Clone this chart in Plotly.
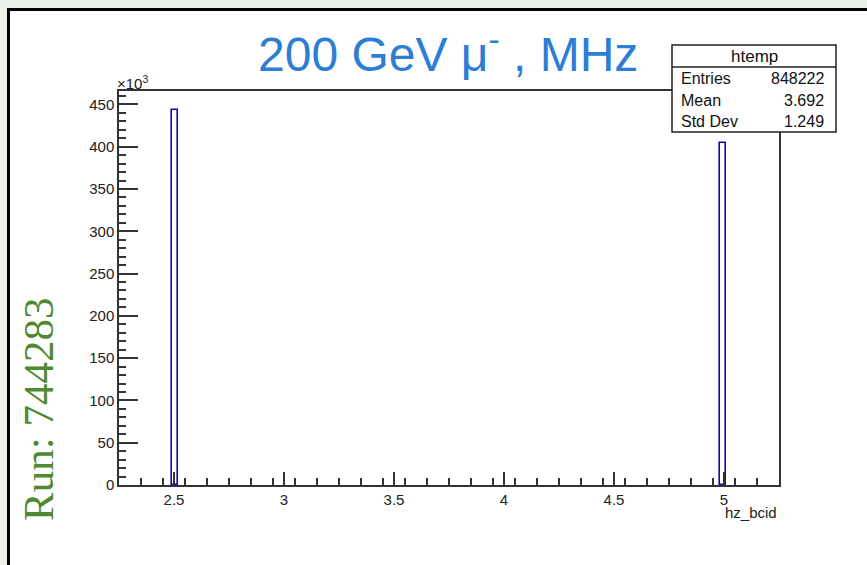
import math
import plotly.graph_objects as go

# Histogram content: hz_bcid values and their entry counts
bcid_values = [2.5, 5.0]
bcid_counts = [443700, 404522]

# Binning of the histogram
x_min, x_max, n_bins = 2.25, 5.25, 100
bin_width = (x_max - x_min) / n_bins

y_tick_vals = [0, 50000, 100000, 150000, 200000, 250000, 300000, 350000, 400000, 450000]
y_tick_text = ["0", "50", "100", "150", "200", "250", "300", "350", "400", "450"]
x_tick_vals = [2.5, 3.0, 3.5, 4.0, 4.5, 5.0]
x_tick_text = ["2.5", "3", "3.5", "4", "4.5", "5"]

# Statistics shown in the stats box
entries = sum(bcid_counts)
mean = sum(v * c for v, c in zip(bcid_values, bcid_counts)) / entries
std = math.sqrt(sum(c * (v - mean) ** 2 for v, c in zip(bcid_values, bcid_counts)) / entries)

bin_lo = [x_min + math.floor((v - x_min) / bin_width) * bin_width for v in bcid_values]
bin_centers = [lo + bin_width / 2 for lo in bin_lo]

W, H = 867, 565
L, R, T, B = 119, 88, 91, 80
PW, PH = W - L - R, H - T - B


def px(x):
    return (x - L) / PW


def py(y):
    return (H - B - y) / PH


AX = "#333333"
LBL = "#222222"
FONT = "Liberation Sans, Arial, Helvetica, sans-serif"

fig = go.Figure()
fig.add_trace(go.Bar(
    x=bin_centers, y=bcid_counts, width=[bin_width] * len(bin_centers),
    marker=dict(color="rgba(0,0,0,0)", line=dict(color="#0a0ab4", width=1.6)),
    hoverinfo="x+y", showlegend=False,
))

shapes = [
    # white canvas with black border
    dict(type="rect", xref="paper", yref="paper", layer="below",
         x0=px(8.5), y0=py(9.5), x1=px(920), y1=py(620),
         fillcolor="white", line=dict(color="black", width=3)),
    # stats box
    dict(type="rect", xref="paper", yref="paper", layer="above",
         x0=px(672), y0=py(45), x1=px(836), y1=py(132),
         fillcolor="white", line=dict(color="#222222", width=1.5)),
    dict(type="line", xref="paper", yref="paper", layer="above",
         x0=px(672), y0=py(67), x1=px(836), y1=py(67),
         line=dict(color="#222222", width=1.5)),
]

ann = []
stat_font = dict(family=FONT, size=16, color="#111111")
ann.append(dict(text="htemp", x=px(754), y=py(56), xref="paper", yref="paper",
                showarrow=False, xanchor="center", yanchor="middle",
                font=dict(family=FONT, size=17, color="#111111")))
rows = [("Entries", f"{entries:d}", 79), ("Mean", f"{mean:.3f}", 100), ("Std Dev", f"{std:.3f}", 121)]
for lab, val, yy in rows:
    ann.append(dict(text=lab, x=px(679), y=py(yy), xref="paper", yref="paper",
                    showarrow=False, xanchor="left", yanchor="middle", font=stat_font))
    ann.append(dict(text=val, x=px(826), y=py(yy), xref="paper", yref="paper",
                    showarrow=False, xanchor="right", yanchor="middle", font=stat_font))

# title
ann.append(dict(text="200 GeV μ<sup>-</sup> , MHz", x=px(448), y=py(51), xref="paper", yref="paper",
                showarrow=False, xanchor="center", yanchor="middle",
                font=dict(family=FONT, size=48, color="#2d7dd4")))
# exponent of y axis
ann.append(dict(text="×10<sup>3</sup>", x=px(115), y=py(82), xref="paper", yref="paper",
                showarrow=False, xanchor="left", yanchor="middle",
                font=dict(family=FONT, size=15, color=LBL)))
# x axis title
ann.append(dict(text="hz_bcid", x=px(779), y=py(512), xref="paper", yref="paper",
                showarrow=False, xanchor="right", yanchor="middle",
                font=dict(family=FONT, size=15, color=LBL)))
# run number
ann.append(dict(text="Run: 744283", x=px(38), y=py(410), xref="paper", yref="paper",
                showarrow=False, xanchor="center", yanchor="middle", textangle=-90,
                font=dict(family="Liberation Serif, Times New Roman, serif", size=43, color="#4f8a30")))

fig.update_layout(
    width=W, height=H,
    margin=dict(l=L, r=R, t=T, b=B, pad=0),
    paper_bgcolor="#ecf2ea", plot_bgcolor="white",
    shapes=shapes, annotations=ann, bargap=0,
    xaxis=dict(range=[x_min, x_max], showgrid=False, zeroline=False,
               showline=True, linecolor=AX, linewidth=1.5, mirror=True,
               ticks="inside", ticklen=13, tickwidth=1.5, tickcolor=AX,
               tickvals=x_tick_vals, ticktext=x_tick_text,
               tickfont=dict(family=FONT, size=15, color=LBL),
               minor=dict(dtick=0.1, tick0=x_min, ticks="inside", ticklen=7,
                          tickwidth=1.5, tickcolor=AX, showgrid=False)),
    yaxis=dict(range=[0, 1.05 * max(bcid_counts)], showgrid=False, zeroline=False,
               showline=True, linecolor=AX, linewidth=1.5, mirror=True,
               ticks="inside", ticklen=19, tickwidth=1.5, tickcolor=AX,
               tickvals=y_tick_vals, ticktext=y_tick_text,
               tickfont=dict(family=FONT, size=15, color=LBL),
               minor=dict(dtick=10000, tick0=0, ticks="inside", ticklen=7,
                          tickwidth=1.5, tickcolor=AX, showgrid=False)),
)

fig.write_html("out.html")
